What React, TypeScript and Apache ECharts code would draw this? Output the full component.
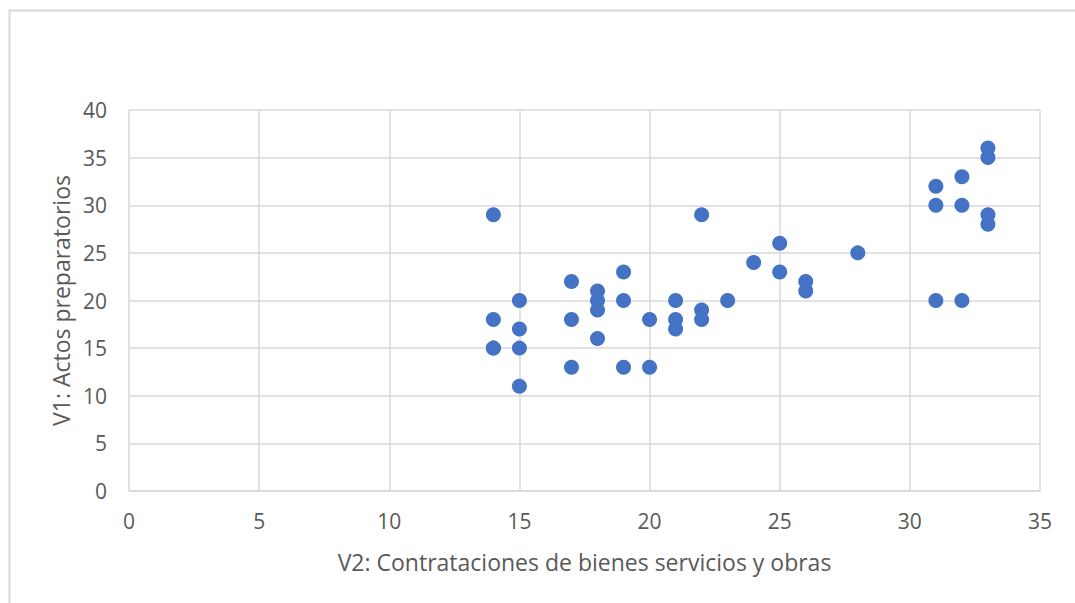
import React, { useEffect, useRef } from "react";
import * as echarts from "echarts";

const xValues = [14, 14, 14, 14, 15, 15, 15, 15, 17, 17, 17, 18, 18, 18, 18, 19, 19, 19, 20, 20, 21, 21, 21, 22, 22, 22, 23, 24, 25, 25, 26, 26, 28, 31, 31, 31, 32, 32, 32, 33, 33, 33, 33];
const yValues = [29, 18, 15, 15, 20, 17, 15, 11, 22, 18, 13, 21, 20, 19, 16, 23, 20, 13, 18, 13, 20, 18, 17, 29, 19, 18, 20, 24, 26, 23, 22, 21, 25, 32, 30, 20, 33, 30, 20, 36, 35, 29, 28];

const xTitle = "V2: Contrataciones de bienes servicios y obras";
const yTitle = "V1: Actos preparatorios";

export default function App() {
  const ref = useRef<HTMLDivElement>(null);
  useEffect(() => {
    if (!ref.current) return;
    const chart = echarts.init(ref.current, null, { renderer: "svg" });
    const font = "'Open Sans', 'Noto Sans', sans-serif";
    const gray = "#595959";
    const gridColor = "#D9D9D9";
    chart.setOption({
      animation: false,
      backgroundColor: "#ffffff",
      textStyle: { fontFamily: font },
      graphic: [
        {
          type: "rect",
          shape: { x: 9.5, y: 10.5, width: 1200, height: 700 },
          style: { fill: "none", stroke: "#D9D9D9", lineWidth: 2 },
          silent: true,
        },
      ],
      grid: { left: 129, right: 35, top: 110, bottom: 112 },
      xAxis: {
        type: "value",
        min: 0,
        max: 35,
        interval: 5,
        name: xTitle,
        nameLocation: "middle",
        nameGap: 59,
        nameTextStyle: { color: gray, fontSize: 23, fontFamily: font },
        axisLine: { show: true, lineStyle: { color: gridColor, width: 1.5 } },
        axisTick: { show: false },
        axisLabel: { color: gray, fontSize: 21, margin: 19, fontFamily: font },
        splitLine: { show: true, lineStyle: { color: gridColor, width: 1.5 } },
      },
      yAxis: {
        type: "value",
        min: 0,
        max: 40,
        interval: 5,
        name: yTitle,
        nameLocation: "middle",
        nameRotate: 90,
        nameGap: 55,
        nameTextStyle: { color: gray, fontSize: 23, fontFamily: font },
        axisLine: { show: false },
        axisTick: { show: false },
        axisLabel: { color: gray, fontSize: 21, margin: 22, fontFamily: font },
        splitLine: { show: true, lineStyle: { color: gridColor, width: 1.5 } },
      },
      series: [
        {
          type: "scatter",
          data: xValues.map((x, i) => [x, yValues[i]]),
          symbol: "circle",
          symbolSize: 15,
          itemStyle: { color: "#4472C4", opacity: 1 },
        },
      ],
    });
    return () => chart.dispose();
  }, []);
  return (
    <div
      ref={ref}
      style={{ position: "fixed", left: 0, top: 0, width: 1075, height: 603, background: "#fff" }}
    />
  );
}
